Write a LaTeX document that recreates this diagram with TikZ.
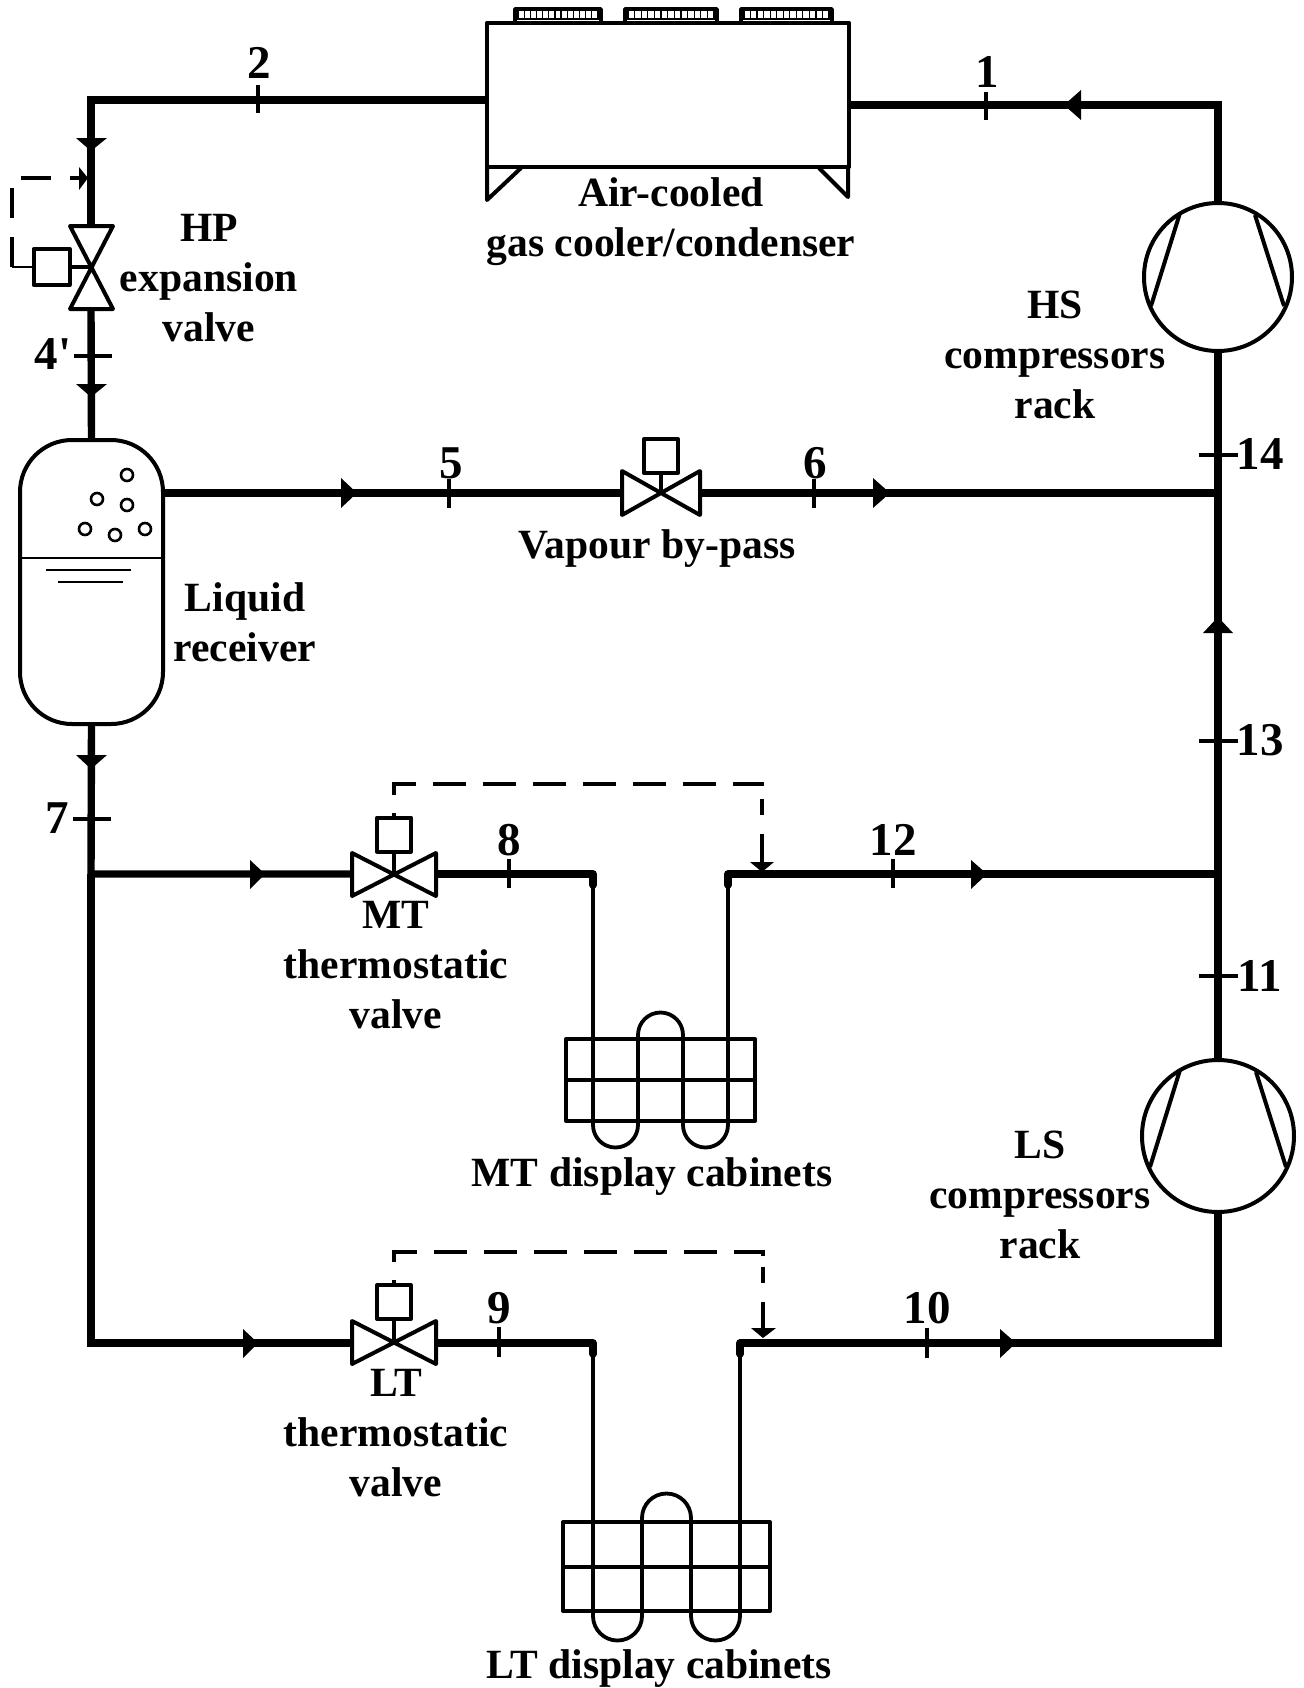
\documentclass[tikz,border=0pt]{standalone}
\usepackage{fontspec}
\setmainfont{Liberation Serif}
\newfontfamily\plainserif{Liberation Serif}
\begin{document}
\begin{tikzpicture}[x=0.5pt,y=-0.5pt,
  pipe/.style={line width=3.7pt,line cap=butt,line join=miter},
  stub/.style={line width=3.7pt,line cap=round,line join=round},
  thinpipe/.style={line width=1.9pt,line join=round},
  equip/.style={draw,line width=2pt,line join=round,inner sep=0pt,outer sep=0pt,fill=white},
  sym/.style={line width=2pt,line join=round},
  tick/.style={line width=1.7pt},
  ctrl/.style={line width=1.7pt},
  lbl/.style={font=\fontsize{20.8}{25}\selectfont\bfseries,align=center,inner sep=0pt,anchor=base},
  num/.style={font=\fontsize{23.5}{25}\selectfont\bfseries,inner sep=0pt,anchor=base},
  flow/.style={fill=black}]
\useasboundingbox (0,0) rectangle (1304,1688);
\fill[white] (0,0) rectangle (1304,1688);

% --- junction coordinates
\coordinate (tl) at (91,100);
\coordinate (tr) at (1218,105);
\coordinate (jmt) at (91,874);
\coordinate (jlt) at (91,1343);
\coordinate (rmt) at (1218,874);
\coordinate (rlt) at (1218,1343);
\coordinate (rby) at (1218,493);
\coordinate (vhp) at (91,267);
\coordinate (vby) at (661,493);
\coordinate (vmt) at (394,875);
\coordinate (vlt) at (394,1343);

% --- equipment
\node[equip,minimum width=181pt,minimum height=72pt] (cool) at (668,94.5) {};
\node[equip,circle,minimum size=74pt] (hs) at (1218,277) {};
\node[equip,circle,minimum size=76pt] (ls) at (1218,1136) {};
\node[equip,rounded corners=26pt,minimum width=71.5pt,minimum height=142pt] (rec) at (91.5,582) {};
\node[equip,minimum width=94.5pt,minimum height=41pt] (cabm) at (660.5,1080) {};
\node[equip,minimum width=103.5pt,minimum height=44.5pt] (cabl) at (666.5,1566.5) {};

% --- gas cooler details
\foreach \a/\b in {515/601,625/717,741/832}{
  \draw[line width=1.8pt,line join=round] (\a,22) -- (\a,9) -- (\b,9) -- (\b,22);
  \draw[line width=1pt] (\a,19) -- (\b,19);
  \foreach \t in {0,...,13}{\draw[line width=0.6pt] ({\a+3+\t*(\b-\a-6)/13},11) -- ({\a+3+\t*(\b-\a-6)/13},19);}
}
\draw[sym] (487,167) -- (848,167);
\draw[sym] (487,167) -- (487,200) -- (521,168);
\draw[sym] (848,167) -- (848,197) -- (819,168);

% --- compressors
\draw[sym] (1180,213) -- (1151,306);
\draw[sym] (1255,215) -- (1284,306);
\draw[sym] (1180,1070) -- (1150,1167);
\draw[sym] (1256,1072) -- (1286,1167);

% --- receiver details
\draw[line width=1.3pt] (20,558) -- (163,558);
\draw[line width=1.3pt] (46,570) -- (131,570);
\draw[line width=1.3pt] (58,582) -- (123,582);
\foreach \x/\y in {127/475,97/499,127/505,85/529,115/535,145/529}{
  \draw[line width=1.3pt] (\x,\y) circle[radius=6];
}

% --- pipes
\draw[pipe] (cool.west |- tl) -- (tl) -- (91,226);
\draw[pipe] (91,309) -- (rec.north);
\draw[pipe] (cool.east |- tr) -- (tr) -- (hs.north);
\draw[pipe] (hs.south) -- (ls.north);
\draw[pipe] (ls.south) -- (rlt) -- (740,1343);
\draw[pipe] (rec.east |- rby) -- (620,493);
\draw[pipe] (702,493) -- (rby);
\draw[pipe] (rec.south) -- (jmt) -- (352,874);
\draw[pipe] (jmt) -- (jlt) -- (352,1343);
\draw[pipe] (436,874) -- (590,874);
\draw[stub] (590,874) -- (593,874) -- (593,885);
\draw[stub] (728,885) -- (728,874) -- (731,874);
\draw[pipe] (731,874) -- (rmt);
\draw[pipe] (436,1343) -- (590,1343);
\draw[stub] (590,1343) -- (593,1343) -- (593,1354);
\draw[stub] (740,1354) -- (740,1343) -- (743,1343);

% --- display cabinet coils
\draw[thinpipe] (593,885) -- (593,1125) arc[start angle=180,end angle=0,radius=22.5] -- (638,1035)
  arc[start angle=180,end angle=360,radius=22.5] -- (683,1125)
  arc[start angle=180,end angle=0,radius=22.5] -- (728,885);
\draw[sym] (cabm.west) -- (cabm.east);
\draw[thinpipe] (593,1354) -- (593,1616) arc[start angle=180,end angle=0,radius=24.5] -- (642,1518)
  arc[start angle=180,end angle=360,radius=24.5] -- (691,1616)
  arc[start angle=180,end angle=0,radius=24.5] -- (740,1354);
\draw[sym] (cabl.west) -- (cabl.east);

% --- valves
\draw[sym,fill=white] (70,226) -- (113,226) -- (70,309) -- (113,309) -- cycle;
\draw[sym] (70,267) -- (vhp);
\node[equip,minimum size=18pt] (bhp) at (51.5,267) {};
\draw[sym,fill=white] (622,471) -- (622,515) -- (700,471) -- (700,515) -- cycle;
\draw[sym] (vby) -- (661,474);
\node[equip,minimum size=17pt] (bby) at (661,456) {};
\draw[sym,fill=white] (352,853) -- (352,896) -- (436,853) -- (436,896) -- cycle;
\draw[sym] (vmt) -- (394,851);
\node[equip,minimum size=17pt] (bmt) at (394,834.5) {};
\draw[sym,fill=white] (352,1321) -- (352,1364) -- (436,1321) -- (436,1364) -- cycle;
\draw[sym] (vlt) -- (394,1319);
\node[equip,minimum size=17pt] (blt) at (394,1302) {};

% --- control lines
\coordinate (ch1) at (12,267);
\coordinate (ch2) at (12,178);
\draw[line width=1pt] (bhp.west) -- (ch1);
\draw[ctrl,dash pattern=on 15pt off 9.5pt] (ch1) -- (ch2) -- (85,178);
\fill (88,178) -- (79,167) -- (79,190) -- cycle;

\draw[ctrl] (bmt.north) -- ++(0,-5);
\draw[ctrl,dash pattern=on 16.5pt off 8.5pt] (394,795) -- (394,784) -- (764,784);
\draw[ctrl] (762,799) -- (762,815);
\draw[ctrl] (762,834) -- (762,864);
\fill (762,872) -- (750,862) -- (774,862) -- cycle;

\draw[ctrl] (blt.north) -- ++(0,-5);
\draw[ctrl,dash pattern=on 16.5pt off 8.5pt] (394,1262) -- (394,1252) -- (763,1252) -- (763,1259);
\draw[ctrl] (763,1267) -- (763,1283);
\draw[ctrl] (763,1302) -- (763,1330);
\fill (763,1338) -- (751,1328) -- (776,1328) -- cycle;

% --- flow arrowheads
\fill[flow] (91,151) -- (76,138) -- (107,138) -- cycle;
\fill[flow] (91,397) -- (76,384) -- (107,384) -- cycle;
\fill[flow] (91,769) -- (76,755) -- (107,755) -- cycle;
\fill[flow] (1064,105) -- (1081,90) -- (1081,120) -- cycle;
\fill[flow] (1218,617) -- (1203,633) -- (1233,633) -- cycle;
\fill[flow] (357,493) -- (341,478) -- (341,508) -- cycle;
\fill[flow] (890,493) -- (873,478) -- (873,508) -- cycle;
\fill[flow] (265,874) -- (250,860) -- (250,889) -- cycle;
\fill[flow] (987,874) -- (971,860) -- (971,889) -- cycle;
\fill[flow] (258,1343) -- (243,1329) -- (243,1358) -- cycle;
\fill[flow] (1016,1343) -- (1000,1329) -- (1000,1358) -- cycle;

% --- state point ticks
\foreach \x/\a/\b in {258/85/113,986/92/120,449/479/508,814/479/508,509/859/888,893/859/888,499/1327/1357,927/1328/1358}{
  \draw[tick] (\x,\a) -- (\x,\b);
}
\foreach \y/\a/\b in {356/74/112,819/73/111,455/1199/1238,741/1199/1238,976/1199/1238}{
  \draw[tick] (\a,\y) -- (\b,\y);
}

% --- state point numbers
\node[num] (n1) at (987,87) {1};
\node[num] (n2) at (259,78) {2};
\node[num] (n4) at (53,369) {\plainserif 4'};
\node[num] (n5) at (451,478) {5};
\node[num] (n6) at (815,478) {6};
\node[num] (n7) at (57,833) {7};
\node[num] (n8) at (509,855) {8};
\node[num] (n9) at (499,1323) {9};
\node[num] (n10) at (927,1323) {10};
\node[num] (n11) at (1260,991) {11};
\node[num] (n12) at (893,855) {12};
\node[num] (n13) at (1260,755) {13};
\node[num] (n14) at (1260,469) {14};

% --- labels (anchor=base sits on the last line)
\node[lbl] (lhp) at (209,341) {HP\\expansion\\valve};
\node[lbl] (lcool) at (671,256) {Air-cooled\\gas cooler/condenser};
\node[lbl] (lhs) at (1055,418) {HS\\compressors\\rack};
\node[lbl] (lby) at (657,558) {Vapour by-pass};
\node[lbl] (lrec) at (245,661) {Liquid\\receiver};
\node[lbl] (lmt) at (396,1028) {MT\\thermostatic\\valve};
\node[lbl] (lcm) at (652,1186) {MT display cabinets};
\node[lbl] (lls) at (1040,1258) {LS\\compressors\\rack};
\node[lbl] (llt) at (396,1496) {LT\\thermostatic\\valve};
\node[lbl] (lcl) at (659,1678) {LT display cabinets};
\end{tikzpicture}
\end{document}
